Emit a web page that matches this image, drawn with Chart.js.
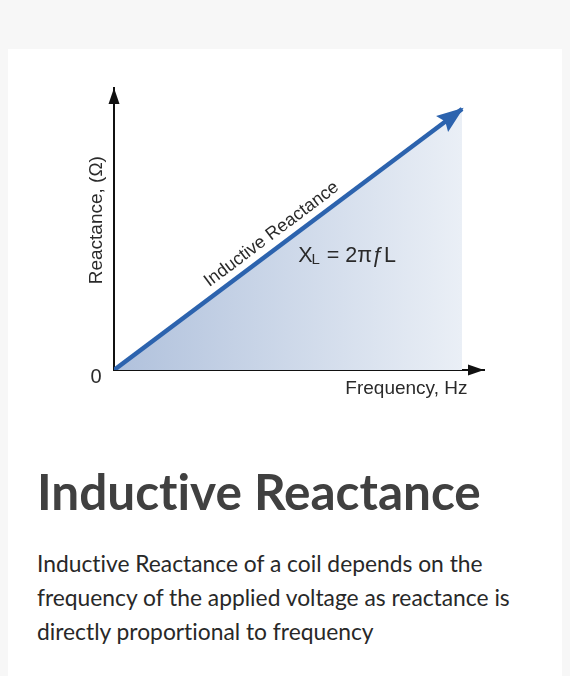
<!DOCTYPE html>
<html><head><meta charset="utf-8">
<script src="https://cdn.jsdelivr.net/npm/chart.js@4.4.0/dist/chart.umd.min.js"></script>
<style>
html,body{margin:0;padding:0;background:#f7f7f7;width:570px;height:676px;overflow:hidden;}
.card{position:absolute;left:8px;top:49px;width:554px;height:700px;background:#fff;}
#wrap{position:absolute;left:0;top:0;width:570px;height:430px;}
h1,p{font-variant-ligatures:none;font-feature-settings:"liga" 0;}
h1{position:absolute;left:37px;top:462px;margin:0;font-family:Lato,sans-serif;font-weight:700;font-size:49.5px;line-height:1.2;color:#404040;white-space:nowrap;}
p{position:absolute;left:37px;top:546px;margin:0;font-family:Lato,sans-serif;font-weight:400;font-size:22.8px;line-height:34px;color:#282828;white-space:nowrap;}
</style></head>
<body>
<div class="card"></div>
<div id="wrap"><canvas id="c"></canvas></div>
<h1>Inductive Reactance</h1>
<p>Inductive Reactance of a coil depends on the<br>frequency of the applied voltage as reactance is<br>directly proportional to frequency</p>
<script>
// Data
const frequency = [0, 100];
const reactance = [0, 100];
const xAxisTitle = 'Frequency, Hz';
const yAxisTitle = 'Reactance, (\u03A9)';
const tickLabels = ['0'];
const lineLabel = 'Inductive Reactance';

const LABEL_FONT = '"Liberation Sans", Arial, sans-serif';

const decor = {
  id: 'decor',
  afterDatasetsDraw(chart) {
    const {ctx, scales: {x, y}} = chart;
    const x0 = x.getPixelForValue(0), y0 = y.getPixelForValue(0);
    const xEnd = x.right, yTop = y.top;
    ctx.save();
    ctx.fillStyle = '#111';
    ctx.beginPath(); ctx.moveTo(x0, yTop); ctx.lineTo(x0 - 5.5, yTop + 16); ctx.lineTo(x0 + 5.5, yTop + 16); ctx.closePath(); ctx.fill();
    ctx.beginPath(); ctx.moveTo(xEnd, y0); ctx.lineTo(xEnd - 16, y0 - 5.5); ctx.lineTo(xEnd - 16, y0 + 5.5); ctx.closePath(); ctx.fill();
    // blue arrow head
    const pts = chart.getDatasetMeta(0).data;
    const p1 = pts[pts.length - 2], p2 = pts[pts.length - 1];
    const ang = Math.atan2(p2.y - p1.y, p2.x - p1.x);
    ctx.save();
    ctx.translate(p2.x, p2.y); ctx.rotate(ang);
    ctx.fillStyle = '#2c63ae';
    ctx.beginPath(); ctx.moveTo(2, 0); ctx.lineTo(-25, -10); ctx.lineTo(-21, 0); ctx.lineTo(-25, 10); ctx.closePath(); ctx.fill();
    ctx.restore();

    // texts
    ctx.fillStyle = '#2a2a2a';
    ctx.textAlign = 'center'; ctx.textBaseline = 'middle';
    ctx.font = '20px ' + LABEL_FONT;
    ctx.fillText(tickLabels[0], x0 - 18, y0 + 7);
    ctx.font = '19px ' + LABEL_FONT;
    ctx.fillText(xAxisTitle, x.getPixelForValue(84), y0 + 19);
    ctx.save();
    ctx.translate(x0 - 17, y.getPixelForValue(57.4));
    ctx.rotate(-Math.PI / 2);
    ctx.fillText(yAxisTitle, 0, 0);
    ctx.restore();

    // label along line
    const lx = x.getPixelForValue(47.7);
    const frac = 47.7 / frequency[frequency.length - 1];
    const ly = p1.y + (p2.y - p1.y) * frac;
    ctx.save();
    ctx.translate(lx, ly);
    ctx.rotate(ang);
    ctx.font = '18px ' + LABEL_FONT;
    ctx.fillText(lineLabel, 0, -14);
    ctx.restore();

    // formula
    ctx.textAlign = 'left'; ctx.textBaseline = 'alphabetic';
    let fx = x.getPixelForValue(52.9), fy = y.getPixelForValue(41.4);
    ctx.font = '21.5px ' + LABEL_FONT;
    ctx.fillText('X', fx, fy); fx += ctx.measureText('X').width - 1;
    ctx.font = '15px ' + LABEL_FONT;
    ctx.fillText('L', fx, fy + 2); fx += ctx.measureText('L').width + 1;
    ctx.font = '21.5px ' + LABEL_FONT;
    ctx.fillText(' = 2\u03C0\u0192L', fx, fy);
    ctx.restore();
  }
};

new Chart(document.getElementById('c'), {
  type: 'line',
  data: {
    datasets: [{
      data: frequency.map((f, i) => ({x: f, y: reactance[i]})),
      borderColor: '#2c63ae',
      borderWidth: 4.5,
      pointRadius: 0,
      tension: 0,
      fill: 'origin',
      backgroundColor: (c) => {
        const chart = c.chart; const ca = chart.chartArea;
        if (!ca) return '#c8d4e8';
        const xs = chart.scales.x;
        const g = chart.ctx.createLinearGradient(ca.left, 0, xs.getPixelForValue(frequency[frequency.length - 1]), 0);
        g.addColorStop(0, '#b0c1dc');
        g.addColorStop(1, '#eaeff6');
        return g;
      }
    }]
  },
  options: {
    responsive: true, maintainAspectRatio: false, animation: false,
    layout: {padding: {left: 114, right: 86, top: 88, bottom: 60}},
    plugins: {legend: {display: false}, tooltip: {enabled: false}},
    scales: {
      x: {type: 'linear', min: 0, max: 106.3, grid: {display: false, drawTicks: false}, ticks: {display: false}, border: {display: true, color: '#111', width: 2}},
      y: {type: 'linear', min: 0, max: 108.05, grid: {display: false, drawTicks: false}, ticks: {display: false}, border: {display: true, color: '#111', width: 2}}
    }
  },
  plugins: [decor]
});
</script>
</body></html>
